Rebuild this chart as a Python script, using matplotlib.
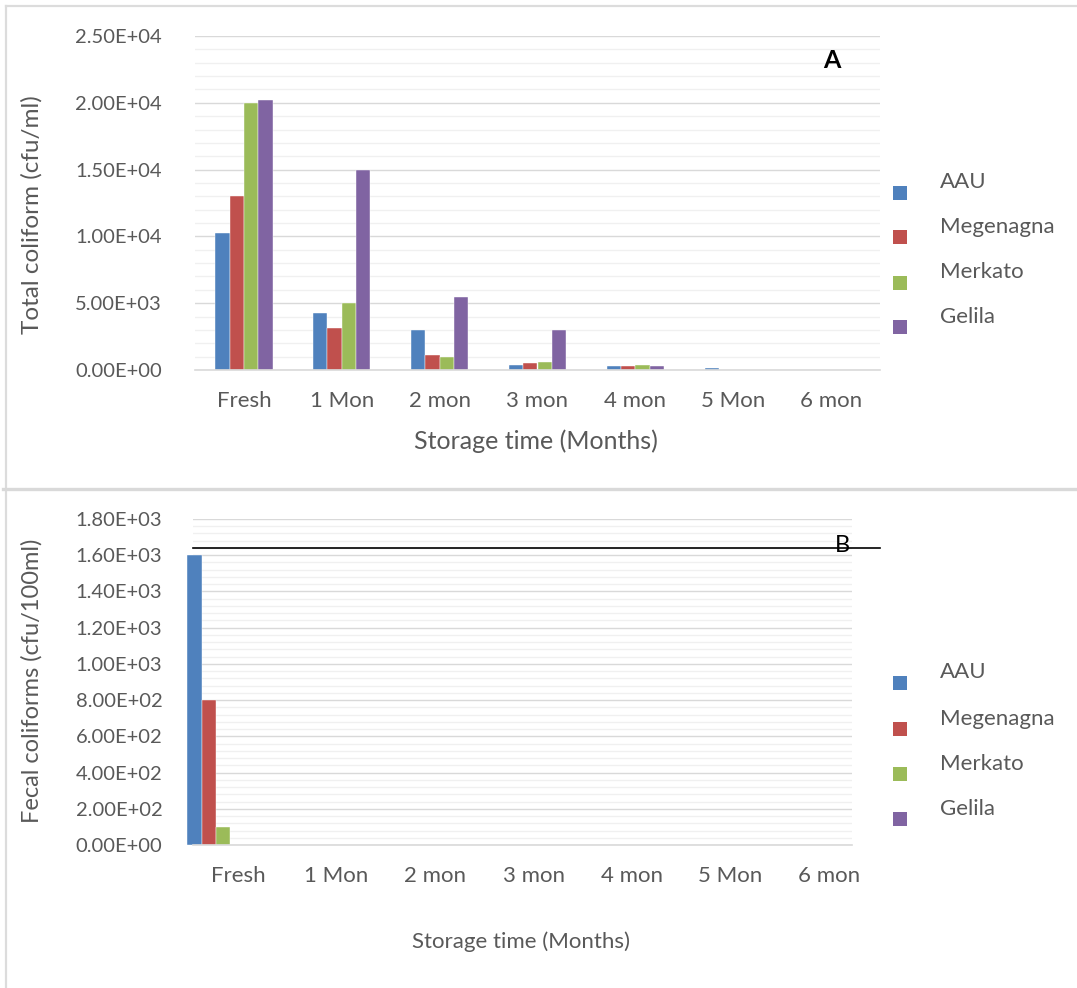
import matplotlib
matplotlib.use("agg")
import matplotlib.pyplot as plt
from matplotlib.lines import Line2D
from matplotlib.patches import Rectangle
from matplotlib.ticker import MultipleLocator, FuncFormatter
import numpy as np

plt.rcParams["font.family"] = ["Lato", "DejaVu Sans"]

W, H = 1077, 988
TEXT = "#595959"
GRID_MAJOR = "#d9d9d9"
GRID_MINOR = "#f0f0f0"

months = ["Fresh", "1 Mon", "2 mon", "3 mon", "4 mon", "5 Mon", "6 mon"]
sites = ["AAU", "Megenagna", "Merkato", "Gelila"]
colors = ["#4F81BD", "#C0504D", "#9BBB59", "#8064A2"]

# total coliform (cfu/ml)
total_aau = [10250, 4250, 3000, 400, 300, 150, 0]
total_megenagna = [13000, 3150, 1150, 550, 300, 0, 0]
total_merkato = [20000, 5000, 1000, 600, 350, 0, 0]
total_gelila = [20200, 15000, 5450, 3000, 300, 0, 0]

# fecal coliforms (cfu/100ml)
fecal_aau = [1600, 0, 0, 0, 0, 0, 0]
fecal_megenagna = [800, 0, 0, 0, 0, 0, 0]
fecal_merkato = [100, 0, 0, 0, 0, 0, 0]
fecal_gelila = [0, 0, 0, 0, 0, 0, 0]

total = [total_aau, total_megenagna, total_merkato, total_gelila]
fecal = [fecal_aau, fecal_megenagna, fecal_merkato, fecal_gelila]


def px_axes(left, top, right, bottom):
    return [left / W, (H - bottom) / H, (right - left) / W, (bottom - top) / H]


def sci(v, pos):
    return "%.2E" % v


def style_axes(ax, major, minor, ypad):
    ax.yaxis.set_major_locator(MultipleLocator(major))
    ax.yaxis.set_minor_locator(MultipleLocator(minor))
    ax.yaxis.set_major_formatter(FuncFormatter(sci))
    ax.grid(True, which="major", axis="y", color=GRID_MAJOR, lw=1.0)
    ax.grid(True, which="minor", axis="y", color=GRID_MINOR, lw=1.0)
    ax.set_axisbelow(True)
    for s in ["top", "right", "left"]:
        ax.spines[s].set_visible(False)
    ax.spines["bottom"].set_color(GRID_MAJOR)
    ax.spines["bottom"].set_linewidth(1.2)
    ax.tick_params(axis="both", which="both", length=0, colors=TEXT)
    ax.tick_params(axis="y", pad=ypad, labelsize=14.5)
    ax.tick_params(axis="x", pad=15, labelsize=16)


def draw_legend(fig, squares, baselines):
    for c, name, sy, by in zip(colors, sites, squares, baselines):
        fig.add_artist(Rectangle((893 / W, (H - sy - 7) / H), 14 / W, 14 / H,
                                 transform=fig.transFigure, color=c, lw=0))
        fig.text(940 / W, (H - by) / H, name, color=TEXT, fontsize=16,
                 va="baseline", ha="left")


fig = plt.figure(figsize=(W / 100, H / 100), dpi=100)

# panel frames
fig.add_artist(Line2D([6 / W, 1], [(H - 6) / H] * 2, color="#dcdcdc", lw=1.6))
fig.add_artist(Line2D([6 / W] * 2, [0, (H - 6) / H], color="#dcdcdc", lw=1.6))
fig.add_artist(Line2D([3 / W, 1], [(H - 489) / H] * 2, color="#d9d9d9", lw=2.4))

x = np.arange(len(months))
bw = 0.146

# A: total coliform
ax1 = fig.add_axes(px_axes(195, 36, 880, 370))
for k in range(4):
    ax1.bar(x + (k - 1.5) * bw, total[k], width=bw, color=colors[k],
            edgecolor="white", linewidth=0.3)
ax1.set_xlim(-0.5, 6.5)
ax1.set_ylim(0, 25000)
style_axes(ax1, 5000, 1000, 24)
ax1.set_xticks(x)
ax1.set_xticklabels(months)
ax1.set_xlabel("Storage time (Months)", color=TEXT, fontsize=18)
ax1.xaxis.set_label_coords(0.497, -0.178)
ax1.set_ylabel("Total coliform (cfu/ml)", color=TEXT, fontsize=17.5)
ax1.yaxis.set_label_coords(-0.222, 0.465)
fig.text(832 / W, (H - 60) / H, "A", fontsize=18, fontweight="bold",
         color="black", ha="center", va="center")
draw_legend(fig, [193, 237, 283, 327], [188, 233, 278, 323])

# B: fecal coliforms
ax2 = fig.add_axes(px_axes(193, 519, 852, 845))
shift = -0.223
for k in range(4):
    ax2.bar(x + shift + (k - 1.5) * bw, fecal[k], width=bw, color=colors[k],
            edgecolor="white", linewidth=0.3, clip_on=False)
ax2.set_xlim(-0.457, 6.233)
ax2.set_ylim(0, 1800)
style_axes(ax2, 200, 40, 22)
ax2.set_xticks(x)
ax2.set_xticklabels(months)
ax2.set_xlabel("Storage time (Months)", color=TEXT, fontsize=16)
ax2.xaxis.set_label_coords(0.497, -0.265)
ax2.set_ylabel("Fecal coliforms (cfu/100ml)", color=TEXT, fontsize=17)
ax2.yaxis.set_label_coords(-0.228, 0.505)
ax2.axhline(1640, xmin=0, xmax=(880 - 193) / 659, color="black", lw=1.2,
            clip_on=False)
fig.text(842 / W, (H - 546) / H, "B", fontsize=17, color="black",
         ha="center", va="center")
draw_legend(fig, [683, 729, 774, 819], [678, 725, 770, 815])

fig.savefig("out.png", dpi=100, facecolor="white")
